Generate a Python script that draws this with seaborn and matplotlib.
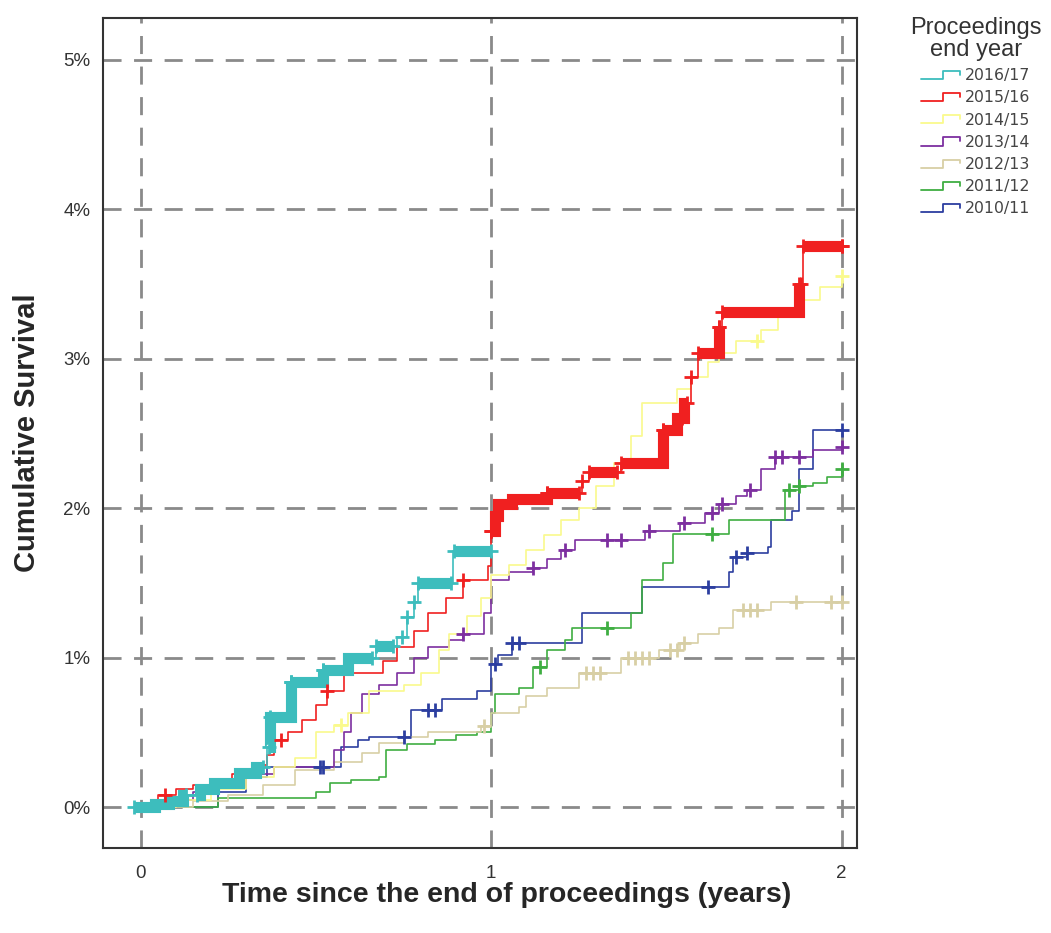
import numpy as np
import pandas as pd
import matplotlib
matplotlib.use("Agg")
import matplotlib.pyplot as plt
import seaborn as sns
from matplotlib.lines import Line2D
from matplotlib.legend_handler import HandlerBase

# step points: time (years) and cumulative value (%) from that time on
years = ["2016/17", "2015/16", "2014/15", "2013/14", "2012/13", "2011/12", "2010/11"]
colors = ["#3dbdbd", "#f02020", "#fafa8c", "#7d2fa0", "#d8cfa5", "#3fae42", "#2c3ea0"]

t_1617 = [0, 0.04, 0.08, 0.12, 0.17, 0.21, 0.28, 0.33, 0.36, 0.37, 0.43, 0.52, 0.59, 0.67, 0.73, 0.76, 0.78, 0.79, 0.89, 1.0]
v_1617 = [0, 0.02, 0.04, 0.08, 0.12, 0.16, 0.23, 0.27, 0.40, 0.60, 0.84, 0.92, 1.0, 1.08, 1.14, 1.27, 1.37, 1.50, 1.71, 1.71]
c_1617 = [0.37, 0.43, 0.745, 0.76, 0.78]
b_1617 = [(-0.02, 0.13), (0.16, 0.35), (0.365, 0.43), (0.43, 0.52), (0.52, 0.66), (0.67, 0.72), (0.79, 0.885), (0.895, 1.0)]

t_1516 = [0, 0.05, 0.10, 0.15, 0.20, 0.26, 0.32, 0.36, 0.38, 0.42, 0.46, 0.50, 0.53, 0.58, 0.69, 0.73, 0.78, 0.82,
          0.87, 0.92, 0.99, 1.0, 1.01, 1.02, 1.06, 1.16, 1.26, 1.28, 1.37, 1.49, 1.53, 1.55, 1.57, 1.59, 1.65, 1.66,
          1.88, 1.89, 2.0]
v_1516 = [0, 0.08, 0.12, 0.15, 0.18, 0.22, 0.28, 0.35, 0.45, 0.50, 0.58, 0.68, 0.78, 0.90, 0.98, 1.07, 1.18, 1.30,
          1.40, 1.52, 1.61, 1.85, 1.95, 2.03, 2.06, 2.10, 2.18, 2.24, 2.30, 2.52, 2.60, 2.70, 2.88, 3.04, 3.21, 3.31,
          3.50, 3.75, 3.75]
c_1516 = [0.07, 0.40, 0.53, 0.92, 1.0, 1.26, 1.545, 1.57, 1.65, 1.885, 2.0]
b_1516 = [(1.0, 1.16), (1.16, 1.25), (1.28, 1.36), (1.37, 1.49), (1.49, 1.56), (1.59, 1.65), (1.66, 1.88), (1.89, 2.0)]

t_1415 = [0, 0.10, 0.20, 0.30, 0.38, 0.44, 0.50, 0.55, 0.59, 0.65, 0.75, 0.80, 0.85, 0.88, 0.93, 0.97, 1.0, 1.05,
          1.10, 1.15, 1.20, 1.25, 1.30, 1.35, 1.40, 1.43, 1.53, 1.57, 1.62, 1.65, 1.70, 1.77, 1.82, 1.88, 1.94, 2.0]
v_1415 = [0, 0.05, 0.12, 0.20, 0.27, 0.33, 0.50, 0.55, 0.63, 0.78, 0.82, 0.90, 1.05, 1.16, 1.28, 1.40, 1.55, 1.62,
          1.72, 1.82, 1.92, 2.00, 2.15, 2.30, 2.48, 2.70, 2.80, 2.88, 2.98, 3.04, 3.12, 3.19, 3.28, 3.39, 3.48, 3.55]
c_1415 = [0.57, 1.76, 2.0]
b_1415 = []

t_1314 = [0, 0.08, 0.15, 0.22, 0.30, 0.38, 0.55, 0.58, 0.60, 0.63, 0.68, 0.73, 0.78, 0.82, 0.88, 0.92, 0.98, 1.0,
          1.05, 1.12, 1.16, 1.20, 1.24, 1.44, 1.54, 1.61, 1.65, 1.70, 1.73, 1.77, 1.81, 1.92, 2.0]
v_1314 = [0, 0.05, 0.10, 0.15, 0.22, 0.27, 0.38, 0.50, 0.63, 0.76, 0.82, 0.90, 1.00, 1.07, 1.12, 1.16, 1.30, 1.52,
          1.57, 1.60, 1.66, 1.72, 1.79, 1.85, 1.90, 1.97, 2.03, 2.08, 2.12, 2.26, 2.34, 2.39, 2.41]
c_1314 = [0.92, 1.12, 1.21, 1.33, 1.37, 1.45, 1.55, 1.63, 1.66, 1.74, 1.81, 1.83, 1.88, 2.0]
b_1314 = []

t_1213 = [0, 0.15, 0.25, 0.35, 0.44, 0.55, 0.63, 0.68, 0.75, 0.82, 0.97, 1.0, 1.08, 1.10, 1.16, 1.25, 1.37, 1.48,
          1.54, 1.59, 1.65, 1.69, 1.80, 2.0]
v_1213 = [0, 0.04, 0.08, 0.15, 0.25, 0.30, 0.36, 0.43, 0.47, 0.50, 0.54, 0.63, 0.67, 0.74, 0.80, 0.90, 1.00, 1.05,
          1.10, 1.16, 1.20, 1.32, 1.37, 1.37]
c_1213 = [0.98, 1.27, 1.29, 1.31, 1.39, 1.41, 1.43, 1.45, 1.51, 1.53, 1.55, 1.72, 1.74, 1.76, 1.87, 1.97, 2.0]
b_1213 = []

t_1112 = [0, 0.22, 0.50, 0.54, 0.60, 0.68, 0.70, 0.76, 0.84, 0.90, 0.96, 1.0, 1.01, 1.08, 1.12, 1.16, 1.21, 1.23,
          1.40, 1.43, 1.49, 1.52, 1.68, 1.84, 1.88, 1.92, 1.96, 2.0]
v_1112 = [0, 0.06, 0.10, 0.16, 0.18, 0.20, 0.38, 0.42, 0.45, 0.48, 0.50, 0.63, 0.76, 0.80, 0.94, 1.05, 1.12, 1.20,
          1.30, 1.52, 1.63, 1.83, 1.92, 2.12, 2.15, 2.17, 2.21, 2.26]
c_1112 = [1.14, 1.33, 1.63, 1.85, 1.88, 2.0]
b_1112 = []

t_1011 = [0, 0.22, 0.30, 0.36, 0.57, 0.62, 0.65, 0.77, 0.86, 0.96, 1.0, 1.02, 1.06, 1.26, 1.43, 1.68, 1.69, 1.73,
          1.79, 1.80, 1.86, 1.88, 1.92, 2.0]
v_1011 = [0, 0.10, 0.20, 0.27, 0.40, 0.45, 0.47, 0.65, 0.72, 0.78, 0.96, 1.02, 1.10, 1.30, 1.47, 1.57, 1.67, 1.70,
          1.74, 1.92, 1.98, 2.26, 2.52, 2.52]
c_1011 = [0.51, 0.52, 0.75, 0.82, 0.84, 1.01, 1.06, 1.08, 1.62, 1.70, 1.73, 2.0]
b_1011 = []

steps = {
    "2016/17": (t_1617, v_1617, c_1617, b_1617),
    "2015/16": (t_1516, v_1516, c_1516, b_1516),
    "2014/15": (t_1415, v_1415, c_1415, b_1415),
    "2013/14": (t_1314, v_1314, c_1314, b_1314),
    "2012/13": (t_1213, v_1213, c_1213, b_1213),
    "2011/12": (t_1112, v_1112, c_1112, b_1112),
    "2010/11": (t_1011, v_1011, c_1011, b_1011),
}
palette = dict(zip(years, colors))


def level(tt, vv, x):
    k = max(np.searchsorted(tt, x, side="right") - 1, 0)
    return vv[k]


curve_rows, cens_rows, blob_rows = [], [], []
for yr, (tt, vv, cc, bb) in steps.items():
    curve_rows += [(yr, a, b) for a, b in zip(tt, vv)]
    # censor marks sit on the curve level at their time
    for c in cc:
        cens_rows.append((yr, c, level(tt, vv, c)))
    # runs of dense censoring: trace the curve between start and end
    for i, (a, b) in enumerate(bb):
        pts = [a] + [x for x in tt if a < x < b] + [b]
        blob_rows += [(yr, i, x, level(tt, vv, x)) for x in pts]
        cens_rows += [(yr, a, level(tt, vv, a)), (yr, b, level(tt, vv, b))]
curves = pd.DataFrame(curve_rows, columns=["year", "t", "v"])
cens = pd.DataFrame(cens_rows, columns=["year", "t", "v"])
blobs = pd.DataFrame(blob_rows, columns=["year", "run", "t", "v"])

sns.set_style("white")
plt.rcParams["font.family"] = ["Liberation Sans", "DejaVu Sans"]

fig = plt.figure(figsize=(10.51, 9.33), dpi=100)
ax = fig.add_axes([0.098, 0.091, 0.717, 0.890])

for ln in [0, 1, 2]:
    ax.axvline(ln, color="#8a8a8a", lw=2, ls=(0, (6.5, 4.5)), zorder=0)
for ln in range(6):
    ax.axhline(ln, color="#8a8a8a", lw=2, ls=(0, (6.5, 4.5)), zorder=0)

draw_order = ["2010/11", "2011/12", "2012/13", "2013/14", "2014/15", "2015/16", "2016/17"]
for yr in draw_order:
    sub = curves[curves.year == yr]
    sns.lineplot(data=sub, x="t", y="v", color=palette[yr], drawstyle="steps-post",
                 estimator=None, lw=1.2, ax=ax, legend=False)
    bl = blobs[blobs.year == yr]
    for run, g in bl.groupby("run"):
        sns.lineplot(data=g, x="t", y="v", color=palette[yr], drawstyle="steps-post",
                     estimator=None, lw=8, solid_capstyle="butt", solid_joinstyle="miter",
                     ax=ax, legend=False)
    cs = cens[cens.year == yr]
    sns.scatterplot(data=cs, x="t", y="v", color=palette[yr], marker="+", s=110,
                    linewidth=2, ax=ax, legend=False, zorder=5)

ax.set_xlim(-0.108, 2.043)
ax.set_ylim(-0.274, 5.28)
ax.set_xticks([0, 1, 2])
ax.set_yticks(range(6))
ax.set_yticklabels([f"{i}%" for i in range(6)])
ax.tick_params(axis="y", direction="out", length=7, width=1.5, color="#333333", labelsize=13.5, pad=2,
               labelcolor="#333333")
ax.tick_params(axis="x", direction="inout", length=18, width=1.5, color="#333333", labelsize=13.5, pad=3,
               labelcolor="#333333")
for sp in ax.spines.values():
    sp.set_color("#333333")
    sp.set_linewidth(1.5)

ax.set_xlabel("Time since the end of proceedings (years)", fontsize=20.5, fontweight="bold", va="center")
ax.xaxis.set_label_coords(0.536, -0.056)
ax.set_ylabel("Cumulative Survival", fontsize=21, fontweight="bold", va="center")
ax.yaxis.set_label_coords(-0.101, 0.5)


class StepHandler(HandlerBase):
    def create_artists(self, legend, orig_handle, xd, yd, w, h, fontsize, trans):
        xs = [xd, xd + w * 0.55, xd + w * 0.55, xd + w, xd + w]
        ys = [yd + h * 0.1, yd + h * 0.1, yd + h * 0.85, yd + h * 0.85, yd + h * 0.5]
        ln = Line2D(xs, ys, color=orig_handle.get_color(), lw=1.3, transform=trans)
        return [ln]


handles = [Line2D([], [], color=palette[y]) for y in years]
leg = fig.legend(handles, years, loc="upper left", bbox_to_anchor=(0.857, 0.992),
                 title="Proceedings\nend year", title_fontsize=17, fontsize=11.3, frameon=False,
                 handler_map={Line2D: StepHandler()}, handlelength=2.5, handletextpad=0.3,
                 labelspacing=0.46, borderpad=0.6, borderaxespad=0, alignment="center")
leg.get_title().set_multialignment("center")
leg.get_title().set_color("#333333")
leg.get_title().set_linespacing(1.0)
for txt in leg.get_texts():
    txt.set_color("#444444")
    txt.set_family("DejaVu Sans")

fig.savefig("out.png", dpi=100)
